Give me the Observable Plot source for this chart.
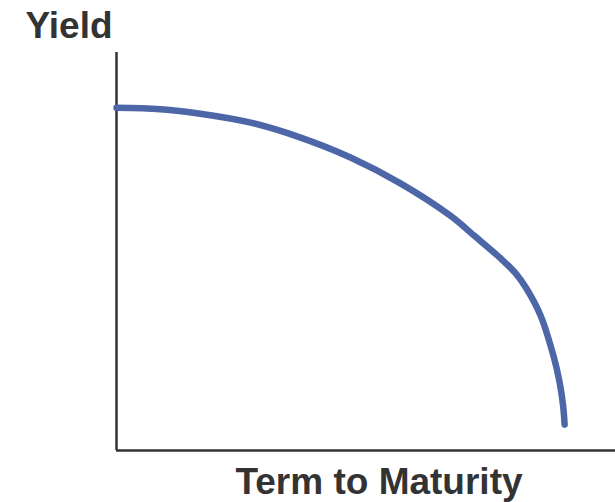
<!DOCTYPE html>
<html>
<head>
<meta charset="utf-8">
<script src="https://cdn.jsdelivr.net/npm/d3@7"></script>
<script src="https://cdn.jsdelivr.net/npm/@observablehq/plot@0.6"></script>
<style>
  html, body { margin: 0; padding: 0; background: #fff; }
  #chart svg { display: block; }
</style>
</head>
<body>
<div id="chart"></div>
<script>
const term = [0, 0.88, 1.68, 2.69, 3.69, 4.69, 5.69, 6.69, 7.19, 7.70, 8.00, 8.20, 8.50, 8.76, 8.88, 8.95, 8.98];
const yieldVals = [6.89, 6.86, 6.77, 6.59, 6.29, 5.89, 5.37, 4.72, 4.30, 3.86, 3.56, 3.28, 2.71, 1.89, 1.37, 0.90, 0.52];
const xLabel = "Term to Maturity";
const yLabel = "Yield";

const data = term.map((t, i) => ({term: t, yield: yieldVals[i]}));
const ink = "#333333";

const chart = Plot.plot({
  width: 615,
  height: 502,
  marginLeft: 116,
  marginRight: 0,
  marginTop: 52,
  marginBottom: 52,
  style: {background: "#fff", fontFamily: "'Liberation Sans', Arial, sans-serif"},
  x: {domain: [0, 10], axis: null},
  y: {domain: [0, 8], axis: null},
  marks: [
    Plot.ruleX([0], {y1: 0, y2: 8, stroke: ink, strokeWidth: 2.5}),
    Plot.ruleY([0], {x1: 0, x2: 10, stroke: ink, strokeWidth: 2.5}),
    Plot.line(data, {x: "term", y: "yield", curve: "catmull-rom", stroke: "#4c66a8", strokeWidth: 6.5, strokeLinecap: "round"}),
    Plot.text([yLabel], {frameAnchor: "top-left", lineAnchor: "middle", dx: -91, dy: -26, textAnchor: "start", fontSize: 37, fontWeight: "bold", fill: ink}),
    Plot.text([xLabel], {frameAnchor: "bottom", lineAnchor: "middle", dx: 13, dy: 32, textAnchor: "middle", fontSize: 37, fontWeight: "bold", fill: ink})
  ]
});
document.getElementById("chart").append(chart);
</script>
</body>
</html>
